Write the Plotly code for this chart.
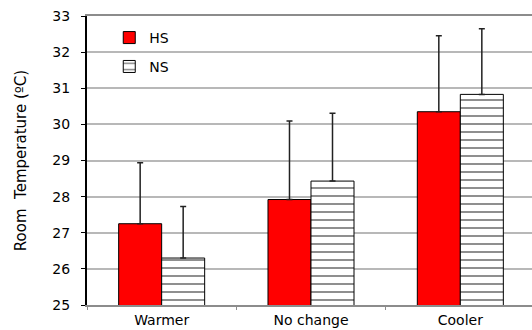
import plotly.graph_objects as go

categories = ["Warmer", "No change", "Cooler"]
hs_mean = [27.25, 27.92, 30.35]
hs_sd = [1.69, 2.17, 2.10]
ns_mean = [26.30, 28.43, 30.83]
ns_sd = [1.43, 1.88, 1.82]

font = "DejaVu Sans, Verdana, sans-serif"

fig = go.Figure()
fig.add_trace(go.Bar(
    x=categories, y=hs_mean, name="HS", base=0,
    marker=dict(color="#ff0000", line=dict(color="black", width=1)),
    error_y=dict(type="data", array=hs_sd, arrayminus=[0, 0, 0], symmetric=False,
                 color="#222222", thickness=1.5, width=3),
    legend="legend",
))
fig.add_trace(go.Bar(
    x=categories, y=ns_mean, name="NS", base=0,
    marker=dict(color="white", line=dict(color="black", width=1),
                pattern=dict(shape="-", size=8, solidity=0.22,
                             fgcolor="black", bgcolor="white")),
    error_y=dict(type="data", array=ns_sd, arrayminus=[0, 0, 0], symmetric=False,
                 color="#222222", thickness=1.5, width=3),
    legend="legend2",
))

fig.update_layout(
    width=532, height=330,
    margin=dict(l=87, r=0, t=16, b=25, autoexpand=False),
    paper_bgcolor="white", plot_bgcolor="white",
    barmode="group", bargap=0.424, bargroupgap=0,
    font=dict(family=font, size=14, color="black"),
    legend=dict(x=0.05, y=0.924, xanchor="left", yanchor="middle",
                bgcolor="rgba(0,0,0,0)", font=dict(size=14),
                itemwidth=30, tracegroupgap=0),
    legend2=dict(x=0.05, y=0.824, xanchor="left", yanchor="middle",
                 bgcolor="rgba(0,0,0,0)", font=dict(size=14),
                 itemwidth=30, tracegroupgap=0),
    showlegend=True,
)
fig.update_xaxes(
    range=[-0.5, 2.48], showgrid=False, automargin=False,
    showline=True, linecolor="#8c8c8c", linewidth=2, mirror=True,
    ticks="outside", tickson="boundaries", ticklen=3, tickcolor="#8c8c8c",
    tickfont=dict(size=14), ticklabelstandoff=1, zeroline=False,
)
fig.update_yaxes(
    range=[25, 33], tick0=25, dtick=1, automargin=False,
    showgrid=True, gridcolor="#b8b8b8", gridwidth=2,
    showline=True, linecolor="black", linewidth=2,
    ticks="outside", ticklen=4, tickcolor="black",
    tickfont=dict(size=14), ticklabelstandoff=8, zeroline=False,
    title=dict(text="Room  Temperature (ºC)", font=dict(size=15), standoff=22),
)

fig.write_html("out.html")
